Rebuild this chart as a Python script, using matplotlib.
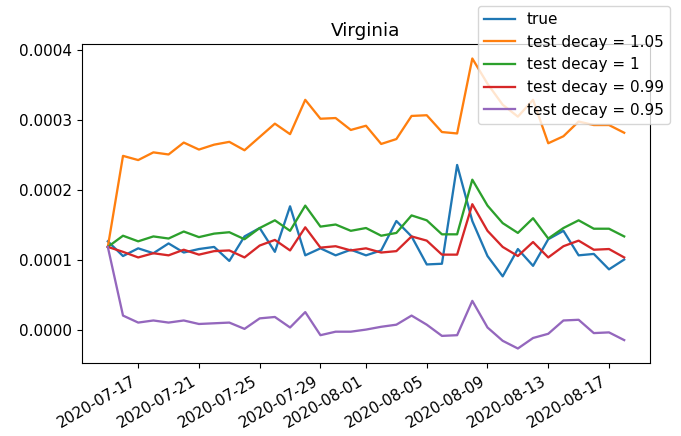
import pandas as pd
import matplotlib
matplotlib.use("Agg")
import matplotlib.pyplot as plt
import matplotlib.dates as mdates

dates = pd.date_range("2020-07-15", "2020-08-18", freq="D")

# values in units of 1e-4
true_vals = [1.27, 1.06, 1.17, 1.10, 1.24, 1.11, 1.16, 1.19, 0.99, 1.34,
             1.46, 1.12, 1.77, 1.07, 1.17, 1.07, 1.15, 1.07, 1.14, 1.56,
             1.34, 0.94, 0.95, 2.36, 1.56, 1.06, 0.77, 1.16, 0.92, 1.30,
             1.42, 1.07, 1.09, 0.87, 1.01]
decay_105 = [1.19, 2.49, 2.43, 2.54, 2.51, 2.68, 2.58, 2.65, 2.69, 2.57,
             2.76, 2.95, 2.80, 3.29, 3.02, 3.03, 2.86, 2.92, 2.66, 2.73,
             3.06, 3.07, 2.83, 2.81, 3.88, 3.52, 3.22, 3.05, 3.29, 2.67,
             2.77, 2.98, 2.93, 2.93, 2.82]
decay_1 = [1.19, 1.35, 1.27, 1.34, 1.31, 1.41, 1.33, 1.38, 1.40, 1.30,
           1.46, 1.57, 1.42, 1.78, 1.48, 1.51, 1.42, 1.46, 1.35, 1.39,
           1.64, 1.57, 1.37, 1.37, 2.15, 1.78, 1.53, 1.39, 1.60, 1.31,
           1.46, 1.57, 1.45, 1.45, 1.34]
decay_099 = [1.19, 1.12, 1.04, 1.10, 1.07, 1.15, 1.08, 1.13, 1.14, 1.04,
             1.21, 1.29, 1.14, 1.47, 1.18, 1.20, 1.14, 1.17, 1.11, 1.13,
             1.34, 1.28, 1.08, 1.08, 1.80, 1.42, 1.19, 1.06, 1.26, 1.04,
             1.20, 1.28, 1.15, 1.16, 1.04]
decay_095 = [1.19, 0.21, 0.11, 0.14, 0.11, 0.14, 0.09, 0.10, 0.11, 0.02,
             0.17, 0.19, 0.04, 0.26, -0.07, -0.02, -0.02, 0.01, 0.05, 0.08,
             0.21, 0.08, -0.08, -0.07, 0.42, 0.04, -0.15, -0.26, -0.11, -0.05,
             0.14, 0.15, -0.04, -0.03, -0.14]

series = [("true", true_vals),
          ("test decay = 1.05", decay_105),
          ("test decay = 1", decay_1),
          ("test decay = 0.99", decay_099),
          ("test decay = 0.95", decay_095)]

plt.rcParams["font.size"] = 11

fig = plt.figure(figsize=(6.81, 4.36), dpi=100)
ax = fig.add_axes([82 / 681, 73 / 436, 568 / 681, 319 / 436])

for name, vals in series:
    ax.plot(dates, [v * 1e-4 for v in vals], label=name, lw=1.65)

ax.set_title("Virginia", fontsize=13.2)
ax.xaxis.set_major_locator(mdates.DayLocator(bymonthday=range(1, 32, 4)))
ax.xaxis.set_major_formatter(mdates.DateFormatter("%Y-%m-%d"))
for lab in ax.get_xticklabels():
    lab.set_rotation(30)
    lab.set_ha("right")
ax.tick_params(labelsize=11, length=3.85)

ax.legend(loc="upper right", bbox_to_anchor=(670 / 681, 1 - 6 / 436),
          bbox_transform=fig.transFigure, borderaxespad=0, fontsize=11)

fig.savefig("out.png", dpi=100)
